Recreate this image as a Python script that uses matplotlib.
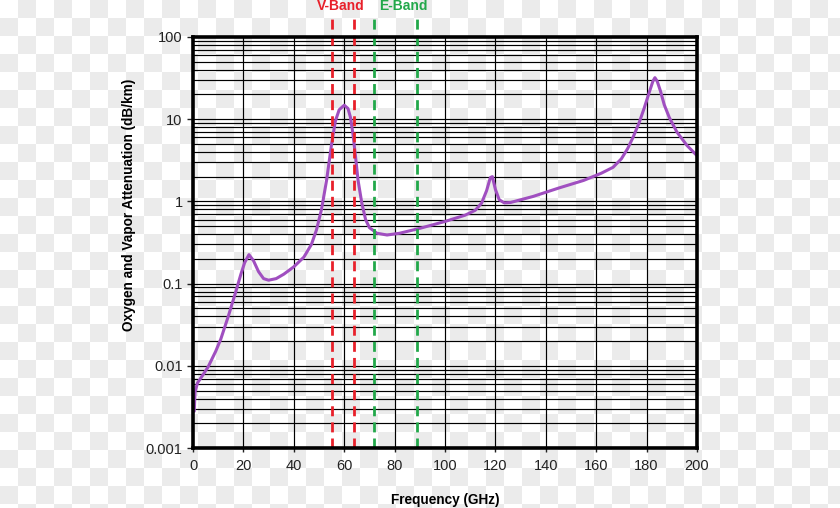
import numpy as np
import matplotlib.pyplot as plt
from matplotlib.ticker import FixedLocator, NullFormatter

plt.rcParams['font.family'] = ['Liberation Sans', 'DejaVu Sans']

# Attenuation curve (GHz, dB/km)
freq = [0.5, 0.8, 1.8, 4, 6, 9, 11, 14, 17, 19, 20.5, 22.2, 24, 26, 28, 30,
        33, 36, 40, 44, 47, 49, 51, 53, 55, 56.5, 58, 60, 61.5, 62.5, 63.5,
        64.5, 65.5, 67, 68.5, 70, 73, 77, 82, 90, 100, 108, 112, 114.5,
        116.5, 118, 118.8, 120, 121.5, 123.5, 126, 135, 145, 155, 162,
        166.7, 170, 172.5, 174.6, 177, 179, 181, 182.5, 183.3, 184.2, 185.5,
        187, 189, 192, 196, 200]
atten = [0.0028, 0.0048, 0.0062, 0.0078, 0.0097, 0.015, 0.021, 0.04, 0.08,
         0.13, 0.18, 0.225, 0.19, 0.14, 0.115, 0.11, 0.115, 0.13, 0.16, 0.21,
         0.3, 0.45, 0.8, 1.8, 5, 9.5, 13, 14.8, 13.5, 10.5, 6.5, 3.5, 1.8,
         0.95, 0.6, 0.48, 0.41, 0.39, 0.41, 0.47, 0.57, 0.68, 0.78, 0.95,
         1.35, 1.95, 2.0, 1.4, 1.05, 0.96, 0.97, 1.15, 1.45, 1.8, 2.2, 2.6,
         3.3, 4.4, 6, 9, 13.5, 21, 29, 32, 29, 22, 15, 10.5, 7, 4.8, 3.6]

v_band = [55, 64]
e_band = [72, 89]
x_ticks = [0, 20, 40, 60, 80, 100, 120, 140, 160, 180, 200]
y_ticks = [0.001, 0.01, 0.1, 1, 10, 100]
y_labels = ['0.001', '0.01', '0.1', '1', '10', '100']

W, H = 840, 508
fig = plt.figure(figsize=(W / 100, H / 100), dpi=100)

# transparency checkerboard behind everything
yy, xx = np.mgrid[0:H, 0:W]
checker = np.where(((xx // 18) + (yy // 18)) % 2 == 1, 0.922, 1.0)
fig.figimage(np.dstack([checker] * 3), xo=0, yo=0, origin='upper', zorder=-10)
fig.patch.set_alpha(0)

ax = fig.add_axes([193 / W, (H - 448) / H, (697 - 193) / W, (448 - 37) / H])
ax.patch.set_alpha(0)
ax.set_yscale('log')
ax.set_xlim(0, 200)
ax.set_ylim(0.001, 100)

# grid: every 20 GHz, every minor decade step
minors = [m * 10.0 ** e for e in range(-3, 2) for m in range(2, 10)]
for v in x_ticks[1:-1]:
    ax.axvline(v, color='black', lw=0.85, zorder=1)
for v in minors + y_ticks[1:-1]:
    ax.axhline(v, color='black', lw=0.85, zorder=1)

ax.plot(freq, atten, color='#a04fc0', lw=2.2, zorder=3,
        solid_capstyle='round', solid_joinstyle='round')

for v in v_band:
    ax.plot([v, v], [0.001, 175], color='#e8202a', lw=2.0, ls=(0, (3.6, 2.2)),
            clip_on=False, zorder=4)
for v in e_band:
    ax.plot([v, v], [0.001, 175], color='#22a84a', lw=2.0, ls=(0, (3.6, 2.2)),
            clip_on=False, zorder=4)

ax.text(58.7, 238, 'V-Band', color='#e8202a', fontsize=10,
        fontweight='bold', ha='center', va='center')
ax.text(83.3, 238, 'E-Band', color='#22a84a', fontsize=10,
        fontweight='bold', ha='center', va='center')

ax.yaxis.set_major_locator(FixedLocator(y_ticks))
ax.set_yticklabels(y_labels)
ax.yaxis.set_minor_locator(FixedLocator(minors))
ax.yaxis.set_minor_formatter(NullFormatter())
ax.set_xticks(x_ticks)
ax.tick_params(axis='both', which='major', labelsize=10.5, colors='#222222',
               length=4, width=1)
ax.tick_params(axis='y', which='minor', length=0)
ax.tick_params(axis='x', length=3, pad=5)

for s in ax.spines.values():
    s.set_linewidth(2.6)
    s.set_color('black')
    s.set_zorder(5)

ax.set_xlabel('Frequency (GHz)', fontsize=9.8, fontweight='bold', labelpad=14)
ax.set_ylabel('Oxygen and Vapor Attenuation (dB/km)', fontsize=9.8,
              fontweight='bold')
ax.yaxis.set_label_coords(-0.114, (448 - 205) / 411)

fig.savefig('out.png', dpi=100)
